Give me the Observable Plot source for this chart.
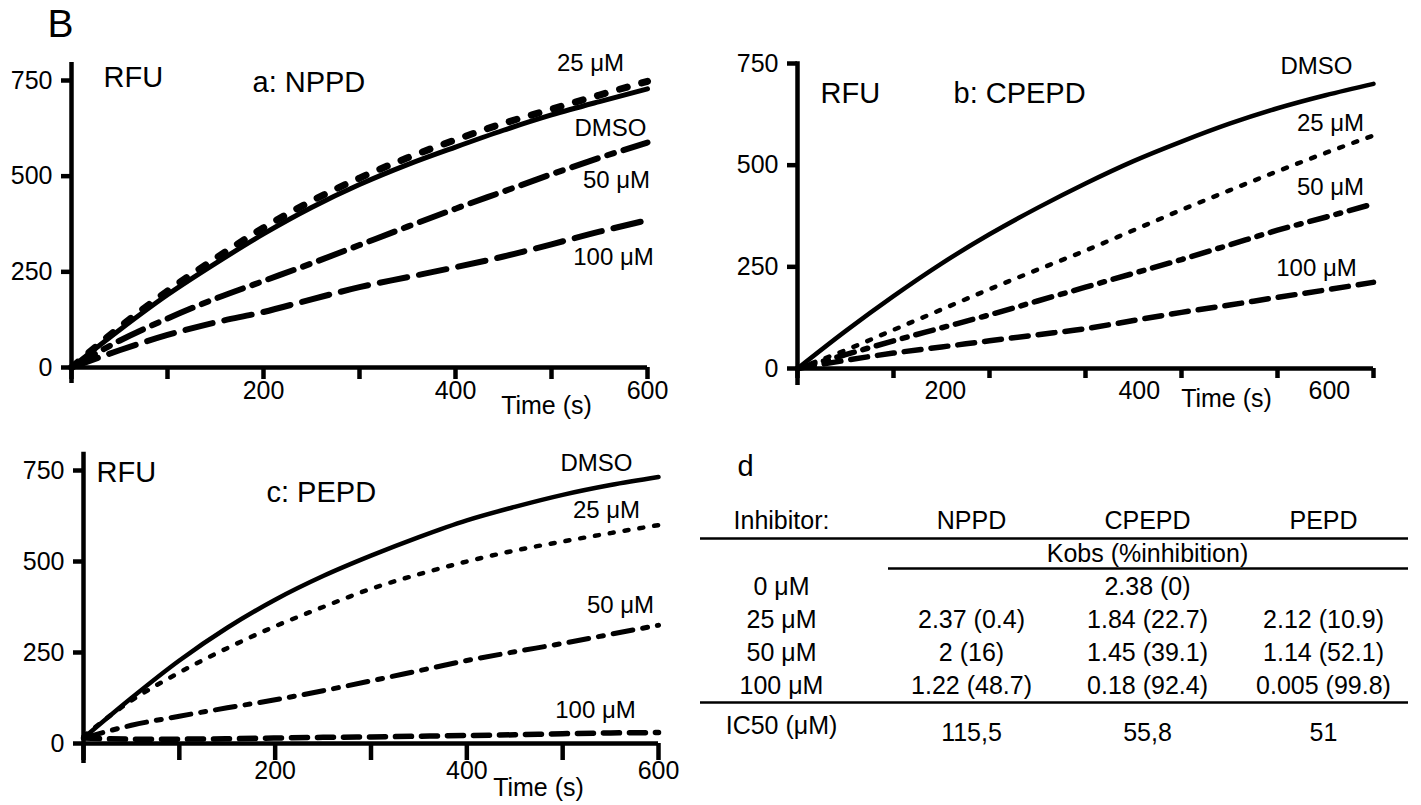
<!DOCTYPE html>
<html>
<head>
<meta charset="utf-8">
<script src="https://cdn.jsdelivr.net/npm/d3@7"></script>
<script src="https://cdn.jsdelivr.net/npm/@observablehq/plot@0.6"></script>
<style>
  body { margin: 0; background: #fff; }
  #fig { position: relative; width: 1421px; height: 805px; overflow: hidden; background: #fff; }
  #fig svg { position: absolute; overflow: visible; }
</style>
</head>
<body>
<div id="fig"></div>
<script>
// ---------- data ----------
const time = [0, 50, 100, 150, 200, 250, 300, 350, 400, 450, 500, 550, 600];

// a: NPPD (RFU)
const aDMSO = [0, 98, 190, 272, 349, 418, 478, 530, 576, 620, 660, 695, 728];
const a25   = [0, 105, 200, 285, 365, 435, 495, 548, 595, 638, 675, 712, 748];
const a50   = [0, 70, 128, 180, 226, 272, 320, 368, 415, 460, 505, 548, 588];
const a100  = [0, 45, 85, 118, 145, 178, 210, 236, 262, 290, 322, 355, 385];

// b: CPEPD (RFU)
const bDMSO = [0, 92, 178, 258, 330, 395, 455, 510, 558, 602, 640, 672, 700];
const b25   = [0, 45, 95, 145, 195, 243, 290, 340, 390, 438, 485, 530, 573];
const b50   = [0, 34, 68, 100, 132, 166, 200, 234, 268, 304, 340, 372, 405];
const b100  = [0, 20, 38, 53, 68, 83, 98, 118, 138, 156, 175, 193, 212];

// c: PEPD (RFU)
const cDMSO = [15, 125, 228, 318, 395, 460, 516, 567, 613, 650, 683, 710, 732];
const c25   = [20, 118, 195, 262, 322, 375, 425, 465, 500, 530, 555, 578, 600];
const c50   = [15, 50, 75, 98, 120, 145, 172, 200, 228, 252, 275, 300, 325];
const c100  = [15, 12, 12, 13, 15, 17, 18, 20, 22, 24, 27, 29, 30];

const seriesNames = ["DMSO", "25 μM", "50 μM", "100 μM"];
const yTicks = [0, 250, 500, 750];
const xTicks = [0, 100, 200, 300, 400, 500, 600];
const xTickLabels = [200, 400, 600];
const bLabelPositions = [154, 356, 554];   // panel b labels sit off their ticks
const bLabelTexts = ["200", "400", "600"];

// d: table
const inhibitors = ["NPPD", "CPEPD", "PEPD"];
const concentrations = ["0 μM", "25 μM", "50 μM", "100 μM"];
const kobsZero = "2.38 (0)";
const kobsNPPD = [2.37, 2, 1.22];
const kobsCPEPD = [1.84, 1.45, 0.18];
const kobsPEPD = [2.12, 1.14, 0.005];
const inhNPPD = [0.4, 16, 48.7];
const inhCPEPD = [22.7, 39.1, 92.4];
const inhPEPD = [10.9, 52.1, 99.8];
const ic50 = [115.5, 55.8, 51];

// ---------- drawing ----------
const FONT = '"Liberation Sans", Arial, Helvetica, sans-serif';
const fig = document.getElementById("fig");

function rows(v) { return time.map((t, i) => ({t, v: v[i]})); }

function panel(cfg) {
  const marks = [];
  cfg.lines.forEach((L, k) => {
    const data = rows(L.values);
    marks.push(Plot.line(data, {x: "t", y: "v", stroke: "black", strokeWidth: L.w,
      strokeDasharray: L.dash, curve: "monotone-x"}));
    marks.push(Plot.text([data[data.length - 1]], {x: "t", y: "v", text: () => seriesNames[k],
      dx: L.dx, dy: L.dy, fontSize: cfg.seriesFont, textAnchor: "middle", lineAnchor: "middle"}));
  });
  marks.push(Plot.ruleX([0], {y1: cfg.yExt[0], y2: cfg.yExt[1], strokeWidth: cfg.axisW}));
  marks.push(Plot.ruleY([0], {x1: 0, x2: 600, strokeWidth: cfg.axisW}));
  marks.push(Plot.axisY({ticks: yTicks, tickSize: 10, tickPadding: 9, strokeWidth: cfg.axisW,
    fontSize: cfg.tickFont, label: null}));
  if (cfg.offLabels) {
    marks.push(Plot.axisX({ticks: xTicks, tickSize: cfg.xTickSize, strokeWidth: cfg.axisW,
      tickFormat: () => "", label: null}));
    const m = new Map(bLabelPositions.map((p, i) => [p, bLabelTexts[i]]));
    marks.push(Plot.axisX({ticks: bLabelPositions, tickSize: cfg.xTickSize, tickPadding: cfg.xPad,
      strokeOpacity: 0, tickFormat: d => m.get(d), fontSize: cfg.tickFont, label: null}));
  } else {
    marks.push(Plot.axisX({ticks: xTicks, tickSize: cfg.xTickSize, tickPadding: cfg.xPad,
      strokeWidth: cfg.axisW, tickFormat: d => xTickLabels.includes(d) ? String(d) : "",
      fontSize: cfg.tickFont, label: null}));
  }
  marks.push(Plot.text(["RFU"], {text: d => d, frameAnchor: "top-left", dx: cfg.rfu[0], dy: cfg.rfu[1],
    textAnchor: "start", lineAnchor: "middle", fontSize: cfg.titleFont}));
  marks.push(Plot.text([cfg.title], {text: d => d, frameAnchor: "top-left", dx: cfg.tpos[0], dy: cfg.tpos[1],
    textAnchor: "start", lineAnchor: "middle", fontSize: cfg.titleFont}));
  marks.push(Plot.text(["Time (s)"], {text: d => d, frameAnchor: "bottom-right", dx: cfg.tl[0], dy: cfg.tl[1],
    textAnchor: "middle", lineAnchor: "middle", fontSize: cfg.tickFont}));
  if (cfg.extra) marks.push(...cfg.extra);
  const svg = Plot.plot({
    width: cfg.width, height: cfg.height,
    marginLeft: cfg.m[0], marginRight: cfg.m[1], marginTop: cfg.m[2], marginBottom: cfg.m[3],
    x: {domain: [0, 600], axis: null},
    y: {domain: [0, 750], axis: null},
    style: {fontFamily: FONT, overflow: "visible", background: "transparent", color: "black"},
    marks
  });
  svg.style.left = cfg.left + "px";
  svg.style.top = cfg.top + "px";
  fig.appendChild(svg);
}

// panel a
panel({
  left: 0, top: 0, width: 700, height: 420, m: [71, 53, 80, 53],
  axisW: 4.5, tickFont: 25, seriesFont: 24, titleFont: 29, xTickSize: 12, xPad: 2,
  yExt: [-42, 797], title: "a: NPPD", rfu: [32, -3], tpos: [181, 2], tl: [-101, 38],
  lines: [
    {values: aDMSO, w: 5, dash: null, dx: -37, dy: 39},
    {values: a25, w: 7, dash: "8,15", dx: -57, dy: -18},
    {values: a50, w: 6, dash: "27,10,7,10", dx: -31, dy: 38},
    {values: a100, w: 6, dash: "28,12", dx: -34, dy: 37}
  ],
  extra: [Plot.text(["B"], {text: d => d, frameAnchor: "top-left", dx: -11, dy: -56,
    fontSize: 39, textAnchor: "middle", lineAnchor: "middle"})]
});

// panel b
panel({
  left: 720, top: 0, width: 701, height: 420, m: [77, 48, 63, 52],
  axisW: 4.5, tickFont: 25, seriesFont: 24, titleFont: 29, xTickSize: 10, xPad: 3,
  yExt: [-42, 754], title: "b: CPEPD", rfu: [23, 30], tpos: [156, 30], tl: [-147, 30],
  offLabels: true,
  lines: [
    {values: bDMSO, w: 4.5, dash: null, dx: -57, dy: -18},
    {values: b25, w: 4.5, dash: "4,11", dx: -43, dy: -12},
    {values: b50, w: 5.5, dash: "18,9,5,9", dx: -43, dy: -16},
    {values: b100, w: 5.5, dash: "17,10", dx: -57, dy: -14}
  ]
});

// panel c
panel({
  left: 0, top: 400, width: 700, height: 405, m: [83, 42, 70, 62],
  axisW: 4.5, tickFont: 25, seriesFont: 24, titleFont: 29, xTickSize: 17, xPad: 1,
  yExt: [-55, 800], title: "c: PEPD", rfu: [13, 2], tpos: [183, 22], tl: [-120, 44],
  lines: [
    {values: cDMSO, w: 4.5, dash: null, dx: -62, dy: -14},
    {values: c25, w: 4.5, dash: "4,11", dx: -52, dy: -15},
    {values: c50, w: 5, dash: "20,10,5,10", dx: -38, dy: -20},
    {values: c100, w: 5.5, dash: "16,10", dx: -63, dy: -22}
  ]
});

// panel d: table
(function () {
  const cols = ["label", ...inhibitors];
  const rowKeys = ["head", "kobs", "r0", "r25", "r50", "r100", "ic50"];
  const fmt = (k, p) => `${k} (${p})`;
  const labelCells = [{c: "label", r: "head", s: "Inhibitor:"}];
  const rk = ["r0", "r25", "r50", "r100"];
  concentrations.forEach((c, i) => labelCells.push({c: "label", r: rk[i], s: c}));
  const cells = [];
  inhibitors.forEach(n => cells.push({c: n, r: "head", s: n}));
  cells.push({c: "CPEPD", r: "kobs", s: "Kobs (%inhibition)"});
  cells.push({c: "CPEPD", r: "r0", s: kobsZero});
  for (let i = 0; i < 3; i++) {
    cells.push({c: "NPPD", r: rk[i + 1], s: fmt(kobsNPPD[i], inhNPPD[i])});
    cells.push({c: "CPEPD", r: rk[i + 1], s: fmt(kobsCPEPD[i], inhCPEPD[i])});
    cells.push({c: "PEPD", r: rk[i + 1], s: fmt(kobsPEPD[i], inhPEPD[i])});
  }
  const icCells = inhibitors.map((n, i) => ({c: n, r: "ic50", s: String(ic50[i]).replace(".", ",")}));
  const svg = Plot.plot({
    width: 721, height: 385, marginLeft: 0, marginRight: 13, marginTop: 0, marginBottom: 0,
    x: {type: "point", domain: cols, range: [94, 623], padding: 0, axis: null},
    y: {type: "point", domain: rowKeys, range: [98, 300.8], padding: 0, axis: null},
    style: {fontFamily: FONT, overflow: "visible", background: "transparent", color: "black"},
    marks: [
      Plot.text(labelCells, {x: "c", y: "r", text: "s", dx: -14, fontSize: 25, lineAnchor: "middle"}),
      Plot.text(cells, {x: "c", y: "r", text: "s", fontSize: 25, lineAnchor: "middle"}),
      Plot.text([{c: "label", r: "ic50", s: "IC50 (μM)"}], {x: "c", y: "r", text: "s", dx: -14, dy: 7, fontSize: 25, lineAnchor: "middle"}),
      Plot.text(icCells, {x: "c", y: "r", text: "s", dy: 14, fontSize: 25, lineAnchor: "middle"}),
      Plot.ruleY(["head"], {dy: 18, strokeWidth: 2.5}),
      Plot.ruleY(["kobs"], {dy: 15, strokeWidth: 2.5, insetLeft: 188}),
      Plot.ruleY(["r100"], {dy: 17, strokeWidth: 2.5}),
      Plot.text(["d"], {text: d => d, frameAnchor: "top-left", dx: 37, dy: 46, fontSize: 29, lineAnchor: "middle"})
    ]
  });
  svg.style.left = "700px";
  svg.style.top = "420px";
  fig.appendChild(svg);
})();
</script>
</body>
</html>
